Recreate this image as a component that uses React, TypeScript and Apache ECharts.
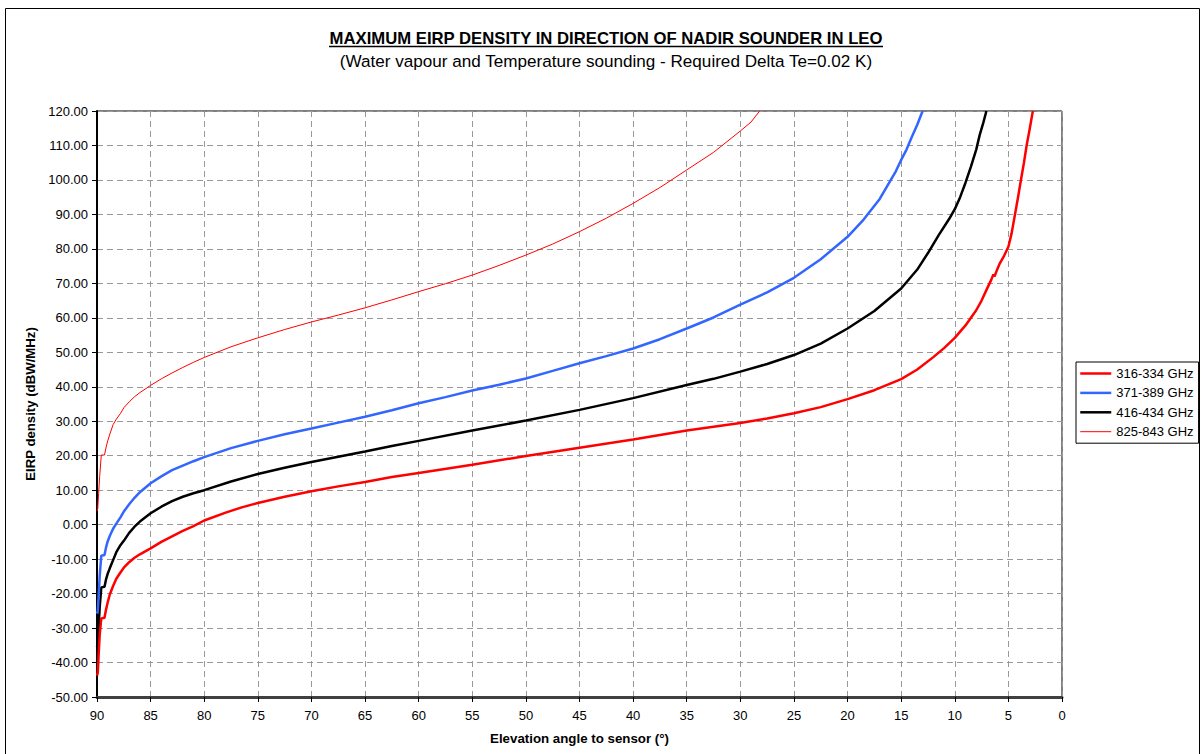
import React, { useEffect, useRef } from "react";
import * as echarts from "echarts";

const FONT = '"Liberation Sans", Arial, sans-serif';

const chartTitle = "MAXIMUM EIRP DENSITY IN DIRECTION OF NADIR SOUNDER IN LEO";
const chartSubtitle = "(Water vapour and Temperature sounding - Required Delta Te=0.02 K)";
const xAxisTitle = "Elevation angle to sensor (°)";
const yAxisTitle = "EIRP density (dBW/MHz)";

const bandNames = ["316-334 GHz", "371-389 GHz", "416-434 GHz", "825-843 GHz"];
const bandColors = ["#ff0000", "#3366ff", "#000000", "#ff0000"];
const bandWidths = [2.5, 2.5, 2.5, 1];

// Elevation angle (deg) and EIRP density (dBW/MHz) per band
const elev316 = [90.0, 89.93, 89.85, 89.75, 89.6, 89.3, 89.15, 89.0, 88.8, 88.5, 88.2, 87.8, 87.5, 87.0, 86.5, 86.0, 85.0, 84.0, 83.0, 82.0, 81.0, 80.0, 78.0, 76.5, 75.0, 72.5, 70.0, 67.5, 65.0, 62.5, 60.0, 55.0, 50.0, 45.0, 40.0, 35.0, 30.0, 27.5, 25.0, 22.5, 20.0, 17.5, 15.0, 13.5, 12.0, 11.0, 10.0, 9.0, 8.0, 7.5, 7.0, 6.6, 6.4, 6.3, 6.1, 5.8, 5.4, 5.0, 4.7, 4.36, 4.1, 3.83, 3.55, 3.3, 3.0, 2.72];
const eirp316 = [-43.8, -43.0, -38, -32, -27.2, -27.0, -24.5, -22.5, -20.2, -17.8, -15.7, -13.8, -12.5, -10.9, -9.6, -8.6, -6.9, -5.0, -3.4, -1.8, -0.4, 1.2, 3.5, 5.0, 6.3, 8.1, 9.7, 11.1, 12.4, 13.8, 15.0, 17.4, 19.9, 22.3, 24.7, 27.3, 29.5, 30.8, 32.3, 34.1, 36.4, 39.0, 42.2, 45.0, 48.6, 51.2, 54.2, 57.8, 62.2, 65.0, 68.4, 71.0, 72.6, 72.0, 73.6, 75.8, 78.0, 80.6, 84.5, 90.4, 95.0, 100.0, 105.0, 110.0, 115.0, 120.0];

const elev371 = [90.0, 89.93, 89.85, 89.75, 89.6, 89.3, 89.15, 89.0, 88.8, 88.5, 88.2, 87.8, 87.5, 87.0, 86.5, 86.0, 85.0, 84.0, 83.0, 82.0, 81.0, 80.0, 77.5, 75.0, 72.5, 70.0, 67.5, 65.0, 62.5, 60.0, 57.5, 55.0, 52.5, 50.0, 47.5, 45.0, 42.5, 40.0, 37.5, 35.0, 32.5, 30.0, 27.5, 25.0, 22.5, 20.0, 18.5, 17.0, 15.5, 15.0, 14.5, 14.0, 13.5, 13.0];
const eirp371 = [-25.8, -25.0, -21, -15, -9.0, -8.8, -6.5, -4.8, -3.2, -1.2, 0.3, 2.2, 3.8, 5.9, 7.8, 9.4, 12.0, 14.0, 15.8, 17.1, 18.4, 19.6, 22.2, 24.3, 26.2, 27.9, 29.6, 31.3, 33.2, 35.2, 37.0, 38.9, 40.6, 42.4, 44.6, 46.8, 48.9, 51.1, 53.8, 56.9, 60.1, 63.8, 67.4, 71.6, 77.0, 83.5, 88.5, 94.5, 102.5, 105.8, 108.8, 112.5, 116.0, 120.0];

const elev416 = [90.0, 89.93, 89.85, 89.75, 89.6, 89.3, 89.15, 89.0, 88.8, 88.5, 88.2, 87.8, 87.5, 87.0, 86.5, 86.0, 85.0, 84.0, 83.0, 82.0, 81.0, 80.0, 77.5, 75.0, 72.5, 70.0, 67.5, 65.0, 62.5, 60.0, 55.0, 50.0, 45.0, 40.0, 35.0, 32.5, 30.0, 27.5, 25.0, 22.5, 20.0, 17.5, 15.0, 13.5, 12.5, 11.5, 10.5, 10.0, 9.5, 9.0, 8.5, 8.0, 7.68, 7.35, 7.05];
const eirp416 = [-35.6, -34.5, -30, -24, -18.2, -18.0, -15.8, -14.2, -12.6, -10.3, -8.0, -5.9, -4.7, -2.4, -0.6, 0.9, 3.3, 5.2, 6.8, 8.1, 9.1, 10.0, 12.5, 14.7, 16.5, 18.2, 19.7, 21.2, 22.8, 24.3, 27.3, 30.2, 33.3, 36.7, 40.5, 42.3, 44.4, 46.6, 49.2, 52.5, 56.9, 62.0, 68.5, 74.0, 78.8, 84.0, 88.8, 91.5, 95.0, 99.2, 103.8, 108.8, 113.0, 116.5, 120.0];

const elev825 = [90.0, 89.93, 89.85, 89.75, 89.6, 89.3, 89.15, 89.0, 88.8, 88.5, 88.2, 87.8, 87.5, 87.0, 86.5, 86.0, 85.0, 84.0, 83.0, 82.0, 81.0, 80.0, 77.5, 75.0, 72.5, 70.0, 67.5, 65.0, 62.5, 60.0, 57.5, 55.0, 52.5, 50.0, 47.5, 45.0, 42.5, 40.0, 37.5, 35.0, 32.5, 30.0, 29.0, 28.2];
const eirp825 = [3.9, 4.6, 9, 14, 20.2, 20.2, 22.5, 24.3, 26.3, 29.0, 30.6, 32.3, 33.9, 35.6, 37.1, 38.3, 40.4, 42.3, 44.0, 45.6, 47.1, 48.5, 51.6, 54.2, 56.6, 58.8, 60.8, 62.9, 65.2, 67.6, 69.9, 72.4, 75.2, 78.2, 81.4, 85.0, 88.9, 93.2, 97.8, 102.9, 108.0, 114.2, 116.8, 120.0];

const bandElev = [elev316, elev371, elev416, elev825];
const bandEirp = [eirp316, eirp371, eirp416, eirp825];

export default function App() {
  const ref = useRef<HTMLDivElement>(null);

  useEffect(() => {
    if (!ref.current) return;
    const chart = echarts.init(ref.current, undefined, { renderer: "svg" });

    const series = bandNames.map((name, i) => ({
      name,
      type: "line",
      data: bandElev[i].map((e, k) => [e, bandEirp[i][k]]),
      showSymbol: false,
      symbol: "none",
      smooth: false,
      lineStyle: { color: bandColors[i], width: bandWidths[i] },
      itemStyle: { color: bandColors[i] },
      emphasis: { disabled: true },
      z: 10 - i,
    }));

    const legendItems = bandNames.map((name, i) => ({
      name,
      lineStyle: { color: bandColors[i], width: bandWidths[i] },
    }));

    chart.setOption({
      animation: false,
      backgroundColor: "#ffffff",
      textStyle: { fontFamily: FONT },
      graphic: [
        {
          type: "rect",
          silent: true,
          z: -10,
          shape: { x: 5.5, y: 8.5, width: 1194, height: 800 },
          style: { fill: "none", stroke: "#000", lineWidth: 1 },
        },
        {
          type: "text",
          x: 606,
          y: 38,
          style: {
            text: chartTitle,
            fontFamily: FONT,
            fontSize: 16.7,
            fontWeight: "bold",
            fill: "#000",
            align: "center",
            verticalAlign: "middle",
          },
        },
        {
          type: "line",
          shape: { x1: 329, y1: 46.5, x2: 883, y2: 46.5 },
          style: { stroke: "#000", lineWidth: 1.3 },
        },
        {
          type: "text",
          x: 606,
          y: 61,
          style: {
            text: chartSubtitle,
            fontFamily: FONT,
            fontSize: 17.1,
            fill: "#000",
            align: "center",
            verticalAlign: "middle",
          },
        },
      ],
      grid: {
        left: 97,
        right: 142,
        top: 111,
        bottom: 57,
        show: true,
        borderColor: "#000",
        borderWidth: 1,
        containLabel: false,
      },
      legend: {
        orient: "vertical",
        left: 1076,
        top: 362,
        padding: [5, 5, 5, 3],
        itemWidth: 31,
        itemHeight: 14,
        itemGap: 6.4,
        borderColor: "#000",
        borderWidth: 1,
        backgroundColor: "#fff",
        itemStyle: { opacity: 0 },
        data: legendItems,
        textStyle: { color: "#000", fontSize: 13, fontFamily: FONT },
      },
      xAxis: {
        type: "value",
        min: 0,
        max: 90,
        interval: 5,
        inverse: true,
        name: xAxisTitle,
        nameLocation: "middle",
        nameGap: 35,
        nameTextStyle: { color: "#000", fontWeight: "bold", fontSize: 13.3, fontFamily: FONT },
        axisLine: { show: true, onZero: false, lineStyle: { color: "#404040", width: 3 } },
        axisTick: { show: true, length: 5, lineStyle: { color: "#000" } },
        axisLabel: { color: "#000", fontSize: 13, margin: 12, fontFamily: FONT },
        splitLine: { show: true, lineStyle: { color: "#999999", width: 1, type: [6, 4] } },
      },
      yAxis: {
        type: "value",
        min: -50,
        max: 120,
        interval: 10,
        name: yAxisTitle,
        nameLocation: "middle",
        nameGap: 60,
        nameTextStyle: { color: "#000", fontWeight: "bold", fontSize: 13.2, fontFamily: FONT },
        axisLine: { show: true, onZero: false, lineStyle: { color: "#000", width: 2 } },
        axisTick: { show: true, length: 5, lineStyle: { color: "#000" } },
        axisLabel: {
          color: "#000",
          fontSize: 13,
          margin: 9,
          fontFamily: FONT,
          formatter: (v: number) => v.toFixed(2),
        },
        splitLine: { show: true, lineStyle: { color: "#999999", width: 1, type: [6, 4] } },
      },
      series,
    });

    return () => chart.dispose();
  }, []);

  return (
    <div
      ref={ref}
      style={{ position: "absolute", left: 0, top: 0, width: 1204, height: 754, background: "#fff" }}
    />
  );
}
